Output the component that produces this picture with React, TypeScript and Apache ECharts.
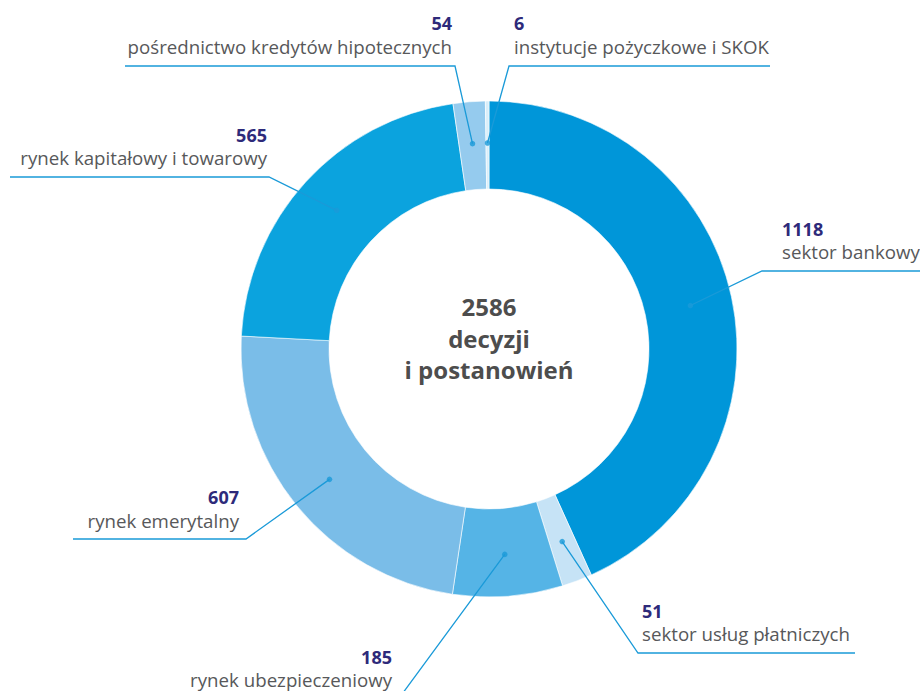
import React, { useEffect, useRef } from 'react';
import * as echarts from 'echarts';

// ---- data ----
const categories = [
  'sektor bankowy',
  'sektor usług płatniczych',
  'rynek ubezpieczeniowy',
  'rynek emerytalny',
  'rynek kapitałowy i towarowy',
  'pośrednictwo kredytów hipotecznych',
  'instytucje pożyczkowe i SKOK',
];
const values = [1118, 51, 185, 607, 565, 54, 6];
const centerCaption = ['decyzji', 'i postanowień'];

// ---- style / layout ----
const sliceColors = ['#0096D9', '#C6E3F6', '#55B4E6', '#7ABDE8', '#0BA3DE', '#95CBEE', '#D8EEFA'];
// label placement: text anchor x/y, alignment, elbow x, underline y, underline end x
const labelPlacement = [
  { x: 782, y: 240, align: 'left', elbowX: 762, lineY: 271, endX: 920 },
  { x: 642, y: 622, align: 'left', elbowX: 638, lineY: 653, endX: 855 },
  { x: 392, y: 668, align: 'right', elbowX: 397, lineY: 701, endX: 150 },
  { x: 239, y: 508.5, align: 'right', elbowX: 246, lineY: 539, endX: 73 },
  { x: 267, y: 146, align: 'right', elbowX: 269, lineY: 177, endX: 10 },
  { x: 452, y: 34.5, align: 'right', elbowX: 455, lineY: 66, endX: 125 },
  { x: 514, y: 34.5, align: 'left', elbowX: 509, lineY: 66, endX: 770 },
];
const CX = 489;
const CY = 349;
const R_IN = 160;
const R_OUT = 248;
const R_DOT = 206;
const FONT = '"Open Sans", "Noto Sans", sans-serif';
const LINE_COLOR = '#1A9AD8';

export default function App() {
  const ref = useRef<HTMLDivElement>(null);

  useEffect(() => {
    if (!ref.current) return;
    const chart = echarts.init(ref.current, undefined, { renderer: 'svg' });
    const total = values.reduce((a, b) => a + b, 0);

    // cumulative midpoints for the dots (in value units along angle axis)
    const mids: number[] = [];
    let acc = 0;
    values.forEach((v) => {
      mids.push(acc + v / 2);
      acc += v;
    });

    const visibleData = values.map((v, i) => ({
      value: v,
      name: categories[i],
      itemStyle: { color: sliceColors[i] },
    }));

    const labelData = values.map((v, i) => ({
      value: v,
      name: categories[i],
      label: {
        align: labelPlacement[i].align,
        rich: {
          v: {
            fontFamily: FONT,
            fontWeight: 'bold',
            fontSize: 18,
            lineHeight: 23,
            color: '#2E2A7A',
            align: labelPlacement[i].align,
          },
          n: {
            fontFamily: FONT,
            fontSize: 18.7,
            lineHeight: 23,
            color: '#57585A',
            align: labelPlacement[i].align,
          },
        },
      },
    }));

    chart.setOption({
      animation: false,
      backgroundColor: '#ffffff',
      polar: { center: [CX, CY], radius: R_OUT },
      angleAxis: {
        type: 'value',
        min: 0,
        max: total,
        startAngle: 90,
        clockwise: true,
        show: false,
      },
      radiusAxis: { type: 'value', min: 0, max: R_OUT, show: false },
      series: [
        {
          type: 'pie',
          center: [CX, CY],
          radius: [R_IN, R_OUT],
          startAngle: 90,
          clockwise: true,
          silent: true,
          avoidLabelOverlap: false,
          label: { show: false },
          labelLine: { show: false },
          itemStyle: { borderColor: '#ffffff', borderWidth: 0.6 },
          data: visibleData,
          z: 1,
        },
        {
          type: 'pie',
          center: [CX, CY],
          radius: [0, R_DOT],
          startAngle: 90,
          clockwise: true,
          silent: true,
          avoidLabelOverlap: false,
          itemStyle: { color: 'rgba(0,0,0,0)' },
          label: {
            show: true,
            position: 'outside',
            formatter: (p: any) => `{v|${p.value}}\n{n|${p.name}}`,
          },
          labelLine: {
            show: true,
            length: 10,
            length2: 10,
            lineStyle: { color: LINE_COLOR, width: 1.3 },
          },
          labelLayout: (params: any) => {
            const L = labelPlacement[params.dataIndex];
            let start = params.labelLinePoints && params.labelLinePoints[0];
            if (!start) {
              const ang = (mids[params.dataIndex] / total) * Math.PI * 2;
              start = [CX + R_DOT * Math.sin(ang), CY - R_DOT * Math.cos(ang)];
            }
            return {
              x: L.x,
              y: L.y,
              align: L.align,
              verticalAlign: 'middle',
              labelLinePoints: [
                [start[0], start[1]],
                [L.elbowX, L.lineY],
                [L.endX, L.lineY],
              ],
            };
          },
          data: labelData,
          z: 3,
        },
        {
          type: 'scatter',
          coordinateSystem: 'polar',
          symbol: 'circle',
          symbolSize: 5.5,
          silent: true,
          itemStyle: { color: LINE_COLOR },
          data: mids.map((m) => [R_DOT, m]),
          z: 4,
        },
      ],
      graphic: [
        {
          type: 'text',
          x: CX,
          y: 338,
          z: 10,
          style: {
            text: `${total}\n${centerCaption.join('\n')}`,
            fill: '#4D4D4D',
            font: `bold 24px ${FONT}`,
            fontFamily: FONT,
            fontSize: 24,
            fontWeight: 'bold',
            textAlign: 'center',
            textVerticalAlign: 'middle',
            lineHeight: 31.5,
          },
        },
      ],
    });

    return () => chart.dispose();
  }, []);

  return (
    <div
      ref={ref}
      style={{ position: 'absolute', left: 0, top: 0, width: 920, height: 691, background: '#fff' }}
    />
  );
}
